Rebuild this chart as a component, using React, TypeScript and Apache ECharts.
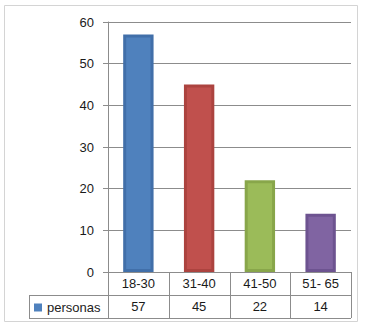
import React, { useEffect, useRef } from "react";
import * as echarts from "echarts";

// Age groups and number of people per group
const categories = ["18-30", "31-40", "41-50", "51- 65"];
const personas = [57, 45, 22, 14];
const barFills = ["#4F81BD", "#C0504D", "#9BBB59", "#8064A2"];
const barEdges = ["#416FA9", "#AC433F", "#88A64A", "#6D5390"];
const yTicks = [0, 10, 20, 30, 40, 50, 60];

const W = 372;
const H = 325;
const GRID = { left: 108, right: 21, top: 22, bottom: 53 };
const ROW = 23;
const FONT = "Liberation Sans";

export default function App() {
  const ref = useRef<HTMLDivElement>(null);

  useEffect(() => {
    document.body.style.margin = "0";
    const chart = echarts.init(ref.current!, null, { renderer: "svg" });

    const x0 = GRID.left;
    const x1 = W - GRID.right;
    const y0 = H - GRID.bottom;
    const cw = (x1 - x0) / categories.length;
    const legendLeft = 29;
    const lineStyle = { stroke: "#8C8C8C", lineWidth: 1 };

    // data table under the plot
    const tableLines: any[] = [];
    const hline = (y: number, a: number, b: number) =>
      tableLines.push({ type: "line", shape: { x1: a, y1: y, x2: b, y2: y }, style: lineStyle, silent: true });
    const vline = (x: number, a: number, b: number) =>
      tableLines.push({ type: "line", shape: { x1: x, y1: a, x2: x, y2: b }, style: lineStyle, silent: true });
    hline(y0 + ROW + 0.5, legendLeft, x1);
    hline(y0 + 2 * ROW + 0.5, legendLeft, x1);
    vline(legendLeft + 0.5, y0 + ROW, y0 + 2 * ROW);
    for (let i = 0; i <= categories.length; i++) {
      const x = Math.round(x0 + i * cw) + 0.5;
      vline(x, y0, y0 + 2 * ROW);
    }

    chart.setOption({
      animation: false,
      textStyle: { fontFamily: FONT },
      grid: { ...GRID, containLabel: false },
      legend: {
        left: legendLeft + 5,
        top: y0 + ROW + 6,
        icon: "rect",
        itemWidth: 8,
        itemHeight: 8,
        itemGap: 4,
        textStyle: { fontFamily: FONT, fontSize: 13, color: "#222", padding: [0, 0, 0, 0] },
        padding: 0,
        data: [{ name: "personas", itemStyle: { color: barFills[0] } }],
      },
      xAxis: [
        {
          type: "category",
          data: categories,
          axisLine: { lineStyle: { color: "#8C8C8C" } },
          axisTick: { show: false },
          axisLabel: { fontSize: 13, color: "#1a1a1a", margin: 5, fontFamily: FONT },
        },
        {
          type: "category",
          position: "bottom",
          offset: ROW,
          data: personas.map(String),
          axisLine: { show: false },
          axisTick: { show: false },
          axisLabel: { fontSize: 13, color: "#1a1a1a", margin: 5, fontFamily: FONT },
        },
      ],
      yAxis: {
        type: "value",
        min: yTicks[0],
        max: yTicks[yTicks.length - 1],
        interval: 10,
        axisLine: { show: true, lineStyle: { color: "#8C8C8C" } },
        axisTick: { show: true, length: 5, lineStyle: { color: "#8C8C8C" } },
        axisLabel: { fontSize: 13, color: "#1a1a1a", margin: 14, fontFamily: FONT },
        splitLine: { lineStyle: { color: "#8C8C8C" } },
      },
      series: [
        {
          name: "personas",
          type: "bar",
          xAxisIndex: 0,
          barWidth: "50%",
          itemStyle: { color: barFills[0] },
          data: personas.map((v, i) => ({
            value: v,
            itemStyle: { color: barFills[i], borderColor: barEdges[i], borderWidth: 3 },
          })),
        },
      ],
      graphic: [
        {
          type: "rect",
          shape: { x: 4.5, y: 5.5, width: 353, height: 316 },
          style: { fill: "none", stroke: "#D4D4D4", lineWidth: 1 },
          silent: true,
        },
        ...tableLines,
      ],
    });

    return () => chart.dispose();
  }, []);

  return <div ref={ref} style={{ width: W, height: H }} />;
}
